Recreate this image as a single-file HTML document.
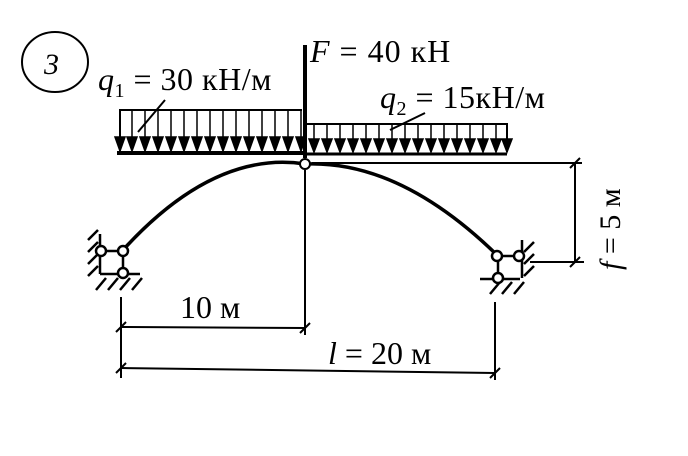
<!DOCTYPE html>
<html><head><meta charset="utf-8"><style>
body{margin:0;background:#fff}
svg text{font-family:"Liberation Serif",serif;fill:#000}
</style></head><body>
<svg width="688" height="451" viewBox="0 0 688 451" xmlns="http://www.w3.org/2000/svg">
<ellipse cx="55" cy="62" rx="33" ry="30" fill="none" stroke="#000" stroke-width="2"/>
<text x="44" y="74" font-size="30" font-style="italic">3</text>
<text x="98" y="90" font-size="32" letter-spacing="0.5"><tspan font-style="italic">q</tspan><tspan font-size="20" dy="7">1</tspan><tspan dy="-7"> = 30 кН/м</tspan></text>
<text x="310" y="62" font-size="32" letter-spacing="1"><tspan font-style="italic">F</tspan> = 40 кН</text>
<text x="380" y="108" font-size="32" letter-spacing="0.5"><tspan font-style="italic">q</tspan><tspan font-size="20" dy="7">2</tspan><tspan dy="-7"> = 15кН/м</tspan></text>
<line x1="165" y1="100" x2="138" y2="132" stroke="#000" stroke-width="2"/>
<line x1="425" y1="113" x2="390" y2="130" stroke="#000" stroke-width="2"/>
<g stroke="#000" stroke-width="2" fill="none">
<polyline points="120,152 120,110 302,110"/>
<polyline points="303,124 507,124 507,152"/>
<line x1="117" y1="153" x2="303" y2="153" stroke-width="4"/>
<line x1="303" y1="154" x2="507" y2="154" stroke-width="3"/>
</g>
<g stroke="#000" stroke-width="1.5" fill="#000">
<path d="M120,110v30M132,110v30M145,110v30M158,110v30M171,110v30M184,110v30M197,110v30M210,110v30M223,110v30M236,110v30M249,110v30M262,110v30M275,110v30M288,110v30M301,110v30" />
<path d="M115,137h10l-5,14zM127,137h10l-5,14zM140,137h10l-5,14zM153,137h10l-5,14zM166,137h10l-5,14zM179,137h10l-5,14zM192,137h10l-5,14zM205,137h10l-5,14zM218,137h10l-5,14zM231,137h10l-5,14zM244,137h10l-5,14zM257,137h10l-5,14zM270,137h10l-5,14zM283,137h10l-5,14zM296,137h10l-5,14z"/>
<path d="M314,124v16M327,124v16M340,124v16M353,124v16M366,124v16M379,124v16M392,124v16M405,124v16M418,124v16M431,124v16M444,124v16M457,124v16M470,124v16M483,124v16M496,124v16"/>
<path d="M309,139h10l-5,13zM322,139h10l-5,13zM335,139h10l-5,13zM348,139h10l-5,13zM361,139h10l-5,13zM374,139h10l-5,13zM387,139h10l-5,13zM400,139h10l-5,13zM413,139h10l-5,13zM426,139h10l-5,13zM439,139h10l-5,13zM452,139h10l-5,13zM465,139h10l-5,13zM478,139h10l-5,13zM491,139h10l-5,13zM502,139h10l-5,13z"/>
</g>
<line x1="305" y1="45" x2="305" y2="158" stroke="#000" stroke-width="4"/>
<path d="M123,250 Q214,150 305,164 Q400,160 498,256" fill="none" stroke="#000" stroke-width="3.5"/>
<circle cx="305" cy="164" r="5" fill="#fff" stroke="#000" stroke-width="2"/>
<g stroke="#000" stroke-width="2.5" fill="none">
<path d="M101,251h22v22"/>
<path d="M100,234v40M100,274h40"/>
<path d="M88,240l10,-10M88,252l10,-10M88,264l10,-10M88,276l10,-10M96,290l10,-12M108,290l10,-12M120,290l10,-12M132,290l10,-12"/>
<circle cx="101" cy="251" r="5" fill="#fff"/><circle cx="123" cy="251" r="5" fill="#fff"/><circle cx="123" cy="273" r="5" fill="#fff"/>
</g>
<g stroke="#000" stroke-width="2.5" fill="none">
<path d="M497,256h22M498,256v22"/>
<path d="M522,240v38M480,279h40"/>
<path d="M524,252l10,-10M524,264l10,-10M524,276l10,-10M490,294l10,-12M502,294l10,-12M514,294l10,-12"/>
<circle cx="497" cy="256" r="5" fill="#fff"/><circle cx="519" cy="256" r="5" fill="#fff"/><circle cx="498" cy="278" r="5" fill="#fff"/>
</g>
<g stroke="#000" stroke-width="2" fill="none">
<line x1="305" y1="170" x2="305" y2="335"/>
<line x1="121" y1="297" x2="121" y2="378"/>
<line x1="495" y1="302" x2="495" y2="380"/>
<line x1="121" y1="327" x2="305" y2="328"/>
<line x1="121" y1="368" x2="495" y2="373"/>
<path d="M116,332l10,-10M300,333l10,-10M116,373l10,-10M490,378l10,-10"/>
<line x1="312" y1="163" x2="582" y2="163"/>
<line x1="530" y1="262" x2="584" y2="262"/>
<line x1="575" y1="163" x2="575" y2="262"/>
<path d="M570,168l10,-10M570,267l10,-10"/>
</g>
<text x="180" y="318" font-size="32">10 м</text>
<text x="328" y="364" font-size="32"><tspan font-style="italic">l</tspan> = 20 м</text>
<text transform="translate(620,270) rotate(-90)" font-size="30"><tspan font-style="italic">f</tspan> = 5 м</text>
</svg>
</body></html>
